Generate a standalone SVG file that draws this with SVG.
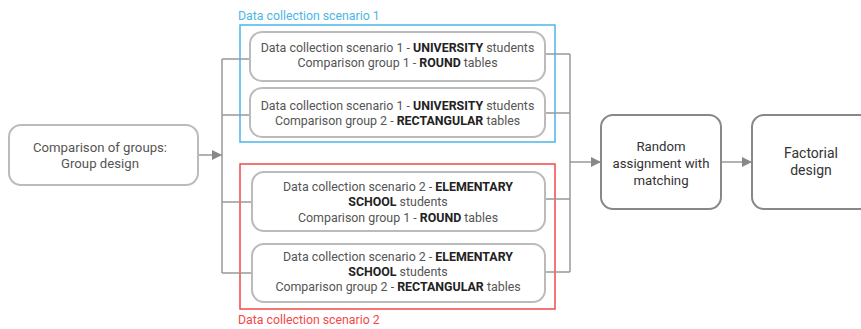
<svg xmlns="http://www.w3.org/2000/svg" width="861" height="329" viewBox="0 0 861 329">
  <style>
    text { font-family: Roboto, "Liberation Sans", sans-serif; fill: #555; text-anchor: middle; }
    .sub { font-size: 12.4px; }
    .main { font-size: 13.2px; }
    .dark { fill: #333; }
    .b { font-weight: bold; fill: #222; }
    .node { fill: #fff; stroke: #bbb; stroke-width: 2; }
    .node2 { fill: #fff; stroke: #888; stroke-width: 2; }
    .conn { fill: none; stroke: #999; stroke-width: 1.5; }
    .lbl { font-size: 12.3px; text-anchor: start; }
  </style>
  <defs>
    <marker id="arrow" viewBox="0 0 10 10" refX="10" refY="5" markerWidth="10" markerHeight="10" markerUnits="userSpaceOnUse" orient="auto">
      <path d="M0,0 L10,5 L0,10 Z" fill="#888"/>
    </marker>
  </defs>

  <!-- scenario frames -->
  <g id="scenario1-frame">
    <rect x="240" y="25" width="315" height="117" fill="none" stroke="#4ab6e6" stroke-width="1.5"/>
    <text class="lbl" x="238" y="20" style="fill:#4ab6e6">Data collection scenario 1</text>
  </g>
  <g id="scenario2-frame">
    <rect x="240" y="164" width="315" height="145" fill="none" stroke="#f24848" stroke-width="1.5"/>
    <text class="lbl" x="238" y="324" style="fill:#f24848">Data collection scenario 2</text>
  </g>

  <!-- connectors -->
  <g id="connectors">
    <path class="conn" d="M198,155 H222" marker-end="url(#arrow)"/>
    <path class="conn" d="M222,59 V273"/>
    <path class="conn" d="M222,59 H251"/>
    <path class="conn" d="M222,115 H251"/>
    <path class="conn" d="M222,202 H253"/>
    <path class="conn" d="M222,273 H253"/>
    <path class="conn" d="M545,54 H570"/>
    <path class="conn" d="M545,113 H570"/>
    <path class="conn" d="M545,199 H570"/>
    <path class="conn" d="M545,272 H570"/>
    <path class="conn" d="M570,54 V272"/>
    <path class="conn" d="M570,162 H601" marker-end="url(#arrow)"/>
    <path class="conn" d="M721,162 H752" marker-end="url(#arrow)"/>
  </g>

  <g id="group-design">
    <rect class="node" x="9" y="125" width="189" height="60" rx="12"/>
    <text class="main" x="100" y="152">Comparison of groups:</text>
    <text class="main" x="100" y="168">Group design</text>
  </g>

  <g id="s1-round">
    <rect class="node" x="250" y="32" width="295" height="49" rx="12"/>
    <text class="sub" x="397.5" y="52">Data collection scenario 1 - <tspan class="b">UNIVERSITY</tspan> students</text>
    <text class="sub" x="397.5" y="67">Comparison group 1 - <tspan class="b">ROUND</tspan> tables</text>
  </g>

  <g id="s1-rect">
    <rect class="node" x="250" y="88" width="295" height="49" rx="12"/>
    <text class="sub" x="397.5" y="110">Data collection scenario 1 - <tspan class="b">UNIVERSITY</tspan> students</text>
    <text class="sub" x="397.5" y="125">Comparison group 2 - <tspan class="b">RECTANGULAR</tspan> tables</text>
  </g>

  <g id="s2-round">
    <rect class="node" x="252" y="172" width="293" height="59" rx="12"/>
    <text class="sub" x="398" y="191">Data collection scenario 2 - <tspan class="b">ELEMENTARY</tspan></text>
    <text class="sub" x="398" y="206"><tspan class="b">SCHOOL</tspan> students</text>
    <text class="sub" x="398" y="222">Comparison group 1 - <tspan class="b">ROUND</tspan> tables</text>
  </g>

  <g id="s2-rect">
    <rect class="node" x="252" y="244" width="293" height="58" rx="12"/>
    <text class="sub" x="398" y="261">Data collection scenario 2 - <tspan class="b">ELEMENTARY</tspan></text>
    <text class="sub" x="398" y="276"><tspan class="b">SCHOOL</tspan> students</text>
    <text class="sub" x="398" y="291">Comparison group 2 - <tspan class="b">RECTANGULAR</tspan> tables</text>
  </g>

  <g id="random-assignment">
    <rect class="node2" x="601" y="115" width="120" height="94" rx="12"/>
    <text class="main dark" x="661" y="151">Random</text>
    <text class="main dark" x="661" y="168">assignment with</text>
    <text class="main dark" x="661" y="185">matching</text>
  </g>

  <g id="factorial-design">
    <rect class="node2" x="752" y="115" width="120" height="94" rx="12"/>
    <text class="main dark" x="811" y="158" style="font-size:14px">Factorial</text>
    <text class="main dark" x="811" y="175" style="font-size:14px">design</text>
  </g>
</svg>
